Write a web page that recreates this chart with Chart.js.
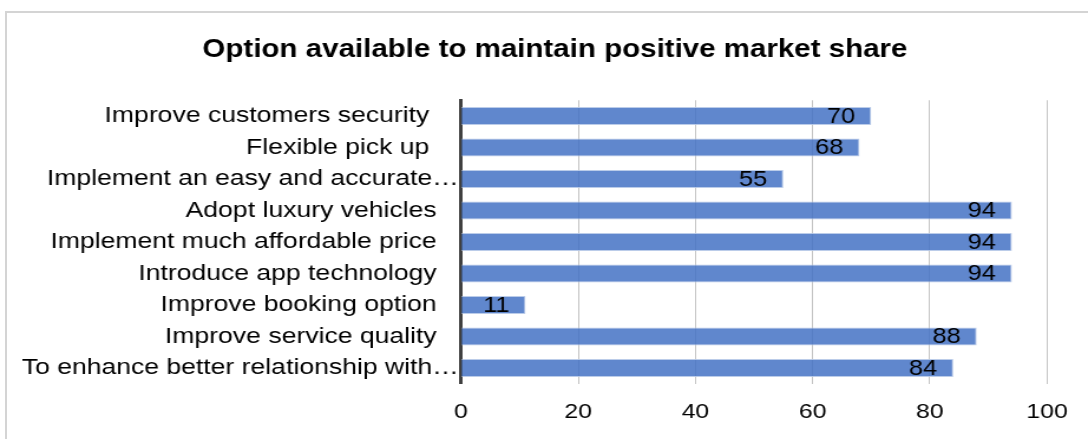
<!DOCTYPE html>
<html>
<head>
<meta charset="utf-8">
<script src="https://cdn.jsdelivr.net/npm/chart.js@4.4.0/dist/chart.umd.min.js"></script>
<style>
    body { margin: 0; background: #fff; overflow: hidden; width: 1088px; height: 439px; position: relative; }
    #frame { position: absolute; left: 5px; top: 11px; width: 1200px; height: 500px; border: 2px solid #d4d4d4; }
    #wrap { position: absolute; left: 0; top: 0; transform: scaleX(1.18); transform-origin: 0 0; }
</style>
</head>
<body>
<div id="frame"></div>
<div id="wrap"><canvas id="chart" width="922" height="439"></canvas></div>
<script>
// data, top to bottom as in the picture
const categories = [
    'Improve customers security ',
    'Flexible pick up ',
    'Implement an easy and accurate\u2026',
    'Adopt luxury vehicles',
    'Implement much affordable price',
    'Introduce app technology',
    'Improve booking option',
    'Improve service quality',
    'To enhance better relationship with\u2026'
];
const values = [70, 68, 55, 94, 94, 94, 11, 88, 84];
const xTicks = [0, 20, 40, 60, 80, 100];
const chartTitle = 'Option available to maintain positive market share';

const FONT = "'Liberation Sans', Arial, sans-serif";

// draw the value near the end of each bar
const barLabels = {
    id: 'barLabels',
    afterDatasetsDraw(chart) {
        const ctx = chart.ctx;
        const meta = chart.getDatasetMeta(0);
        ctx.save();
        ctx.font = '21.5px ' + FONT;
        ctx.fillStyle = '#000';
        ctx.textAlign = 'right';
        ctx.textBaseline = 'middle';
        meta.data.forEach(function (bar, i) {
            ctx.fillText(String(values[i]), bar.x - 13.6, bar.y + 1);
        });
        ctx.restore();
    }
};

// title sits a bit right of the canvas centre in the original
const titleShift = {
    id: 'titleShift',
    afterLayout(chart) {
        chart.titleBlock.left = 53.3;
        chart.titleBlock.right = 887.3;
    }
};

new Chart(document.getElementById('chart').getContext('2d'), {
    type: 'bar',
    data: {
        labels: categories,
        datasets: [{
            data: values,
            backgroundColor: 'rgba(68, 114, 196, 0.85)',
            borderColor: 'rgba(180, 199, 231, 0.9)',
            borderWidth: 1,
            barPercentage: 0.57,
            categoryPercentage: 1
        }]
    },
    options: {
        indexAxis: 'y',
        responsive: false,
        animation: false,
        layout: { padding: { left: 0, right: 34.7, top: 0, bottom: 0 } },
        plugins: {
            legend: { display: false },
            tooltip: { enabled: false },
            title: {
                display: true,
                text: chartTitle,
                color: '#000',
                font: { family: FONT, size: 25, weight: 'bold', lineHeight: 1.2 },
                padding: { top: 35, bottom: 35.25 }
            }
        },
        scales: {
            x: {
                min: 0,
                max: 100,
                afterBuildTicks: function (scale) {
                    scale.ticks = xTicks.map(v => ({ value: v }));
                },
                afterFit: function (scale) { scale.height = 55.25; },
                grid: { color: '#c4c4c4', lineWidth: 1, drawTicks: false },
                border: { display: false },
                ticks: { color: '#000', padding: 16, font: { family: FONT, size: 21 } }
            },
            y: {
                afterFit: function (scale) { scale.width = 390.7; },
                grid: { display: false, drawTicks: false },
                border: { display: true, color: '#404040', width: 3 },
                ticks: {
                    color: '#000',
                    padding: 2,
                    font: { family: FONT, size: 22.5 },
                    autoSkip: false,
                    callback: function (val) {
                        const label = this.getLabelForValue(val);
                        // cut labels reach up to the axis, the rest stop a bit short
                        return label.endsWith('\u2026') ? label : label + '   ';
                    }
                }
            }
        }
    },
    plugins: [barLabels, titleShift]
});
</script>
</body>
</html>
